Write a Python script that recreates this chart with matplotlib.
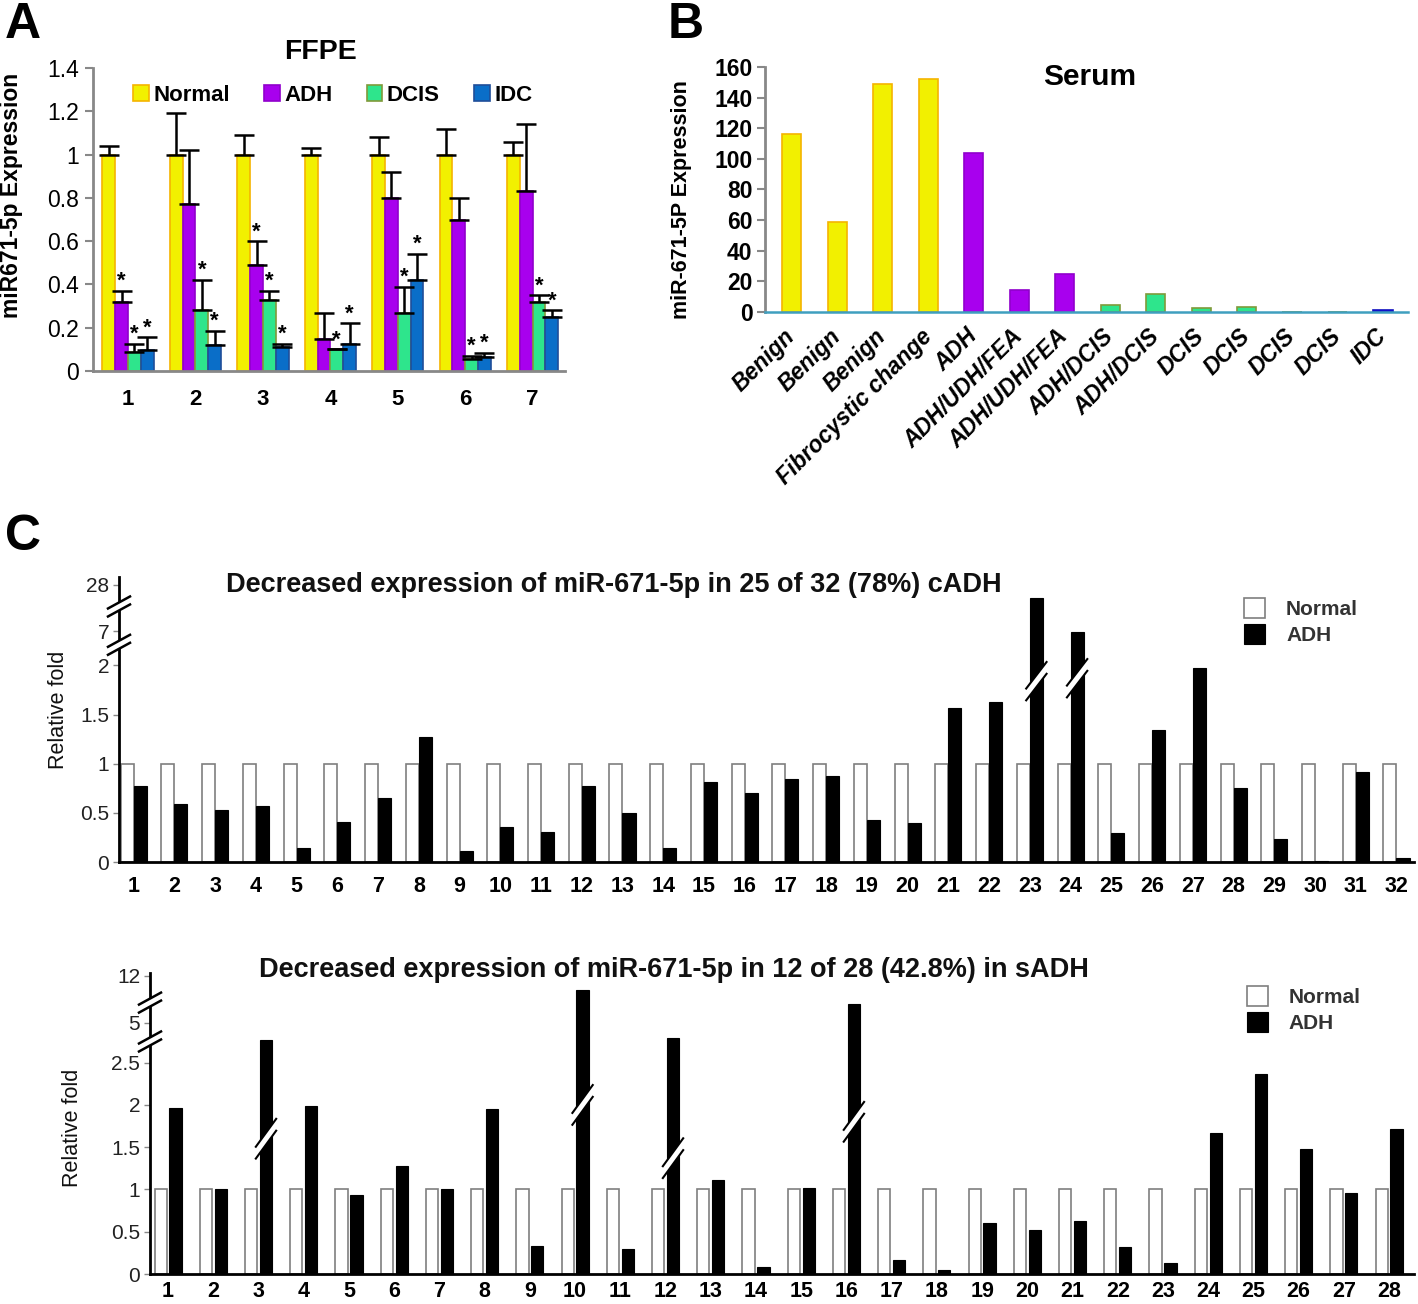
import numpy as np
import matplotlib
matplotlib.use('Agg')
import matplotlib.pyplot as plt
from matplotlib.patches import Patch, Polygon

plt.rcParams['font.family'] = ['Liberation Sans', 'DejaVu Sans']

# ---------------- data ----------------
# Panel A (FFPE)
ffpe_groups = ['1', '2', '3', '4', '5', '6', '7']
normal_mean = [1.0, 1.0, 1.0, 1.0, 1.0, 1.0, 1.0]
normal_err = [0.04, 0.19, 0.09, 0.03, 0.08, 0.12, 0.06]
adh_mean = [0.32, 0.77, 0.49, 0.15, 0.80, 0.70, 0.83]
adh_err = [0.05, 0.25, 0.11, 0.12, 0.12, 0.10, 0.31]
dcis_mean = [0.09, 0.28, 0.33, 0.10, 0.27, 0.055, 0.32]
dcis_err = [0.035, 0.14, 0.04, 0.0, 0.12, 0.015, 0.03]
idc_mean = [0.095, 0.12, 0.11, 0.125, 0.42, 0.065, 0.25]
idc_err = [0.06, 0.065, 0.015, 0.095, 0.12, 0.02, 0.03]
normal_star = [False] * 7
adh_star = [True, False, True, False, False, False, False]
dcis_star = [True] * 7
idc_star = [True] * 7

# Panel B (Serum)
serum_labels = ['Benign', 'Benign', 'Benign', 'Fibrocystic change', 'ADH',
                'ADH/UDH/FEA', 'ADH/UDH/FEA', 'ADH/DCIS', 'ADH/DCIS',
                'DCIS', 'DCIS', 'DCIS', 'DCIS', 'IDC']
serum_values = [116, 59, 149, 152, 104, 14.5, 25, 4.8, 11.6, 2.5, 3.5, 0.1, 0.3, 1.5]
serum_kind = ['benign'] * 4 + ['adh'] * 3 + ['dcis'] * 6 + ['idc']

# Panel C top (cADH)
cadh_cases = [str(i) for i in range(1, 33)]
cadh_normal = [1.0] * 32
cadh_adh = [0.77, 0.59, 0.53, 0.57, 0.14, 0.41, 0.65, 1.27, 0.11, 0.36,
            0.31, 0.77, 0.50, 0.14, 0.81, 0.70, 0.84, 0.88, 0.43, 0.40,
            1.57, 1.63, 22.2, 6.8, 0.30, 1.34, 1.97, 0.75, 0.23, 0.01,
            0.92, 0.04]

# Panel C bottom (sADH)
sadh_cases = [str(i) for i in range(1, 29)]
sadh_normal = [1.0] * 28
sadh_adh = [1.96, 1.01, 3.3, 1.99, 0.93, 1.28, 1.0, 1.95, 0.33, 9.9,
            0.29, 3.47, 1.11, 0.08, 1.02, 7.75, 0.16, 0.05, 0.6, 0.52,
            0.63, 0.32, 0.13, 1.67, 2.37, 1.48, 0.96, 1.72]

W, H = 1418, 1304
fig = plt.figure(figsize=(W / 100, H / 100), dpi=100)


def fig_axes(left, top, right, bottom):
    # pixel box -> figure fraction
    return fig.add_axes([left / W, 1 - bottom / H, (right - left) / W, (bottom - top) / H])


# ---------------- Panel A ----------------
axA = fig_axes(93, 68, 565, 371)
x = np.arange(1, 8)
w = 0.19
series = [
    (normal_mean, normal_err, normal_star, '#F2F000', '#F5B400', 'Normal'),
    (adh_mean, adh_err, adh_star, '#A800EE', '#9000CC', 'ADH'),
    (dcis_mean, dcis_err, dcis_star, '#2EE58C', '#7F9A3A', 'DCIS'),
    (idc_mean, idc_err, idc_star, '#0A6EC8', '#1F4E99', 'IDC'),
]
for k, (m, e, st, fc, ec, lab) in enumerate(series):
    xs = x + (k - 1.5) * w
    axA.bar(xs, m, w, color=fc, edgecolor=ec, linewidth=1.2, label=lab, zorder=2)
    axA.errorbar(xs, m, yerr=[np.zeros(len(m)), e], fmt='none', ecolor='black',
                 elinewidth=1.8, capsize=7, capthick=1.8, zorder=3)
    for xi, mi, ei, si in zip(xs, m, e, st):
        if si:
            axA.text(xi, mi + ei - 0.005, '*', ha='center', va='bottom',
                     fontsize=16, weight='bold', zorder=4)

axA.set_xlim(0.48, 7.48)
axA.set_ylim(0, 1.4)
axA.set_yticks(np.arange(0, 1.41, 0.2))
axA.set_yticklabels(['0', '0.2', '0.4', '0.6', '0.8', '1', '1.2', '1.4'], fontsize=16.5)
axA.set_xticks(x)
axA.set_xticklabels(ffpe_groups, fontsize=16, weight='bold')
axA.tick_params(axis='x', length=0, pad=13)
axA.tick_params(axis='y', length=6, width=1.5, color='#888888', pad=4)
for s in ['top', 'right']:
    axA.spines[s].set_visible(False)
for s in ['left', 'bottom']:
    axA.spines[s].set_color('#888888')
    axA.spines[s].set_linewidth(2)
axA.legend(ncol=4, loc='center left', bbox_to_anchor=(0.085, 0.91), frameon=False,
           prop={'weight': 'bold', 'size': 16}, handlelength=0.7, handleheight=0.7,
           handletextpad=0.2, columnspacing=1.55, borderaxespad=0, borderpad=0)
fig.text(321 / W, 1 - 52 / H, 'FFPE', ha='center', va='center', fontsize=20.5, weight='bold')
fig.text(12 / W, 1 - 195 / H, 'miR671-5p Expression', rotation=90, ha='center',
         va='center', fontsize=16.5, weight='bold')
fig.text(5 / W, 1 - 2 / H, 'A', ha='left', va='top', fontsize=36, weight='bold')

# ---------------- Panel B ----------------
axB = fig_axes(765, 67, 1408, 312)
kind_fc = {'benign': '#F2F000', 'adh': '#A800EE', 'dcis': '#2EE58C', 'idc': '#1414F0'}
kind_ec = {'benign': '#F5B400', 'adh': '#9000CC', 'dcis': '#7F9A3A', 'idc': '#1010C0'}
xb = np.arange(len(serum_values))
axB.bar(xb, serum_values, 0.42, color=[kind_fc[k] for k in serum_kind],
        edgecolor=[kind_ec[k] for k in serum_kind], linewidth=1.2, zorder=2)
axB.set_xlim(-0.59, len(serum_values) - 1 + 0.55)
axB.set_ylim(0, 160)
axB.set_yticks(np.arange(0, 161, 20))
axB.set_yticklabels([str(v) for v in range(0, 161, 20)], fontsize=16.5, weight='bold',
                    family=['Liberation Sans Narrow', 'Liberation Sans'])
axB.set_xticks(xb)
axB.set_xticklabels(serum_labels, rotation=45, ha='right', va='center',
                    rotation_mode='anchor', fontsize=16.5, weight='bold', style='italic')
axB.tick_params(axis='x', length=0, pad=15)
axB.tick_params(axis='y', length=6, width=1.5, color='#888888', pad=3)
for s in ['top', 'right']:
    axB.spines[s].set_visible(False)
axB.spines['left'].set_color('#888888')
axB.spines['left'].set_linewidth(2)
axB.spines['bottom'].set_color('#3F9FBF')
axB.spines['bottom'].set_linewidth(1.8)
fig.text(1090 / W, 1 - 77 / H, 'Serum', ha='center', va='center', fontsize=21.5, weight='bold')
fig.text(681 / W, 1 - 200 / H, 'miR-671-5P Expression', rotation=90, ha='center',
         va='center', fontsize=15.5, weight='bold')
fig.text(668 / W, 1 - 2 / H, 'B', ha='left', va='top', fontsize=36, weight='bold')
fig.text(5 / W, 1 - 514 / H, 'C', ha='left', va='top', fontsize=36, weight='bold')


# ---------------- Panel C helpers ----------------
def axis_break(ax, yd, ytop, wpx, hpx):
    yf = yd / ytop
    dx, dy, g = 11 / wpx, 6 / hpx, 4 / hpx
    band = Polygon([(-dx, yf - dy - g), (dx, yf + dy - g), (dx, yf + dy + g), (-dx, yf - dy + g)],
                   closed=True, transform=ax.transAxes, fc='white', ec='none',
                   clip_on=False, zorder=6)
    ax.add_patch(band)
    for s in (-g, g):
        ax.plot([-dx, dx], [yf - dy + s, yf + dy + s], color='black', lw=1.8,
                transform=ax.transAxes, clip_on=False, zorder=7)


def bar_slash(ax, xc, bw, yc, rise, thick):
    xl, xr = xc - bw / 2 - 0.09, xc + bw / 2 + 0.09
    band = Polygon([(xl, yc - rise / 2 - thick / 2), (xr, yc + rise / 2 - thick / 2),
                    (xr, yc + rise / 2 + thick / 2), (xl, yc - rise / 2 + thick / 2)],
                   closed=True, fc='white', ec='none', zorder=5)
    ax.add_patch(band)
    for s in (-thick / 2, thick / 2):
        ax.plot([xl, xr], [yc - rise / 2 + s, yc + rise / 2 + s], color='black',
                lw=1.5, zorder=6)


def pair_panel(box, cases, normal, adh, vpts, dpts, ytop_disp, yticks, yticklabels,
               bw, off, xlim, breaks, slashes, rise, thick, title, title_xy,
               leg_xy, ylabel_xy, xpad):
    ax = fig_axes(*box)
    wpx, hpx = box[2] - box[0], box[3] - box[1]
    fwd = lambda v: np.interp(v, vpts, dpts)
    inv = lambda d: np.interp(d, dpts, vpts)
    ax.set_yscale('function', functions=(fwd, inv))
    xc = np.arange(1, len(cases) + 1)
    ax.bar(xc - off, normal, bw, color='white', edgecolor='#7F7F7F', linewidth=1.2,
           label='Normal', zorder=2)
    ax.bar(xc + off, adh, bw, color='black', edgecolor='black', linewidth=0.8,
           label='ADH', zorder=3)
    ax.set_xlim(*xlim)
    ax.set_ylim(0, inv(ytop_disp))
    ax.set_yticks(yticks)
    ax.set_yticklabels(yticklabels, fontsize=15, color='#222222')
    ax.minorticks_off()
    ax.set_xticks(xc)
    ax.set_xticklabels(cases, fontsize=15.5, weight='bold')
    ax.tick_params(axis='x', length=0, pad=xpad)
    ax.tick_params(axis='y', length=4, width=1, color='#888888', pad=3)
    for s in ['top', 'right']:
        ax.spines[s].set_visible(False)
    for s in ['left', 'bottom']:
        ax.spines[s].set_color('black')
        ax.spines[s].set_linewidth(2)
    for yd in breaks:
        axis_break(ax, yd, ytop_disp, wpx, hpx)
    for idx, yc in slashes.items():
        bar_slash(ax, idx + off, bw, yc, rise, thick)
    ax.legend(loc='upper left', bbox_to_anchor=leg_xy, frameon=False,
              prop={'weight': 'bold', 'size': 15}, handlelength=1.0, handleheight=1.1,
              handletextpad=1.0, labelspacing=0.25, borderaxespad=0, borderpad=0,
              labelcolor='#333333')
    fig.text(title_xy[0] / W, 1 - title_xy[1] / H, title, ha='center', va='center',
             fontsize=19.5, weight='bold', color='#111111')
    fig.text(ylabel_xy[0] / W, 1 - ylabel_xy[1] / H, 'Relative fold', rotation=90,
             ha='center', va='center', fontsize=15.5, color='#111111')
    return ax


# ---------------- Panel C top ----------------
pair_panel((119, 577, 1414, 862), cadh_cases, cadh_normal, cadh_adh,
           vpts=[-1, 0, 2.15, 7, 28, 60], dpts=[-1, 0, 2.15, 2.35, 2.82, 3.54],
           ytop_disp=2.9, yticks=[0, 0.5, 1, 1.5, 2, 7, 28],
           yticklabels=['0', '0.5', '1', '1.5', '2', '7', '28'],
           bw=0.32, off=0.16, xlim=(0.64, 32.43), breaks=[2.21, 2.60],
           slashes={23: 1.84, 24: 1.87}, rise=0.27, thick=0.12,
           title='Decreased expression of miR-671-5p in 25 of 32 (78%) cADH',
           title_xy=(614, 585), leg_xy=(0.869, 0.928), ylabel_xy=(58, 710), xpad=10)

# ---------------- Panel C bottom ----------------
pair_panel((150, 973, 1414, 1274), sadh_cases, sadh_normal, sadh_adh,
           vpts=[-1, 0, 2.7, 5, 12, 40], dpts=[-1, 0, 2.7, 2.97, 3.53, 5.77],
           ytop_disp=3.56, yticks=[0, 0.5, 1, 1.5, 2, 2.5, 5, 12],
           yticklabels=['0', '0.5', '1', '1.5', '2', '2.5', '5', '12'],
           bw=0.27, off=0.165, xlim=(0.6, 28.55), breaks=[2.75, 3.21],
           slashes={3: 1.6, 10: 2.0, 12: 1.37, 16: 1.8}, rise=0.33, thick=0.14,
           title='Decreased expression of miR-671-5p in 12 of 28 (42.8%) in sADH',
           title_xy=(674, 970), leg_xy=(0.868, 0.957), ylabel_xy=(72, 1128), xpad=5)

fig.savefig('out.png', dpi=100)
